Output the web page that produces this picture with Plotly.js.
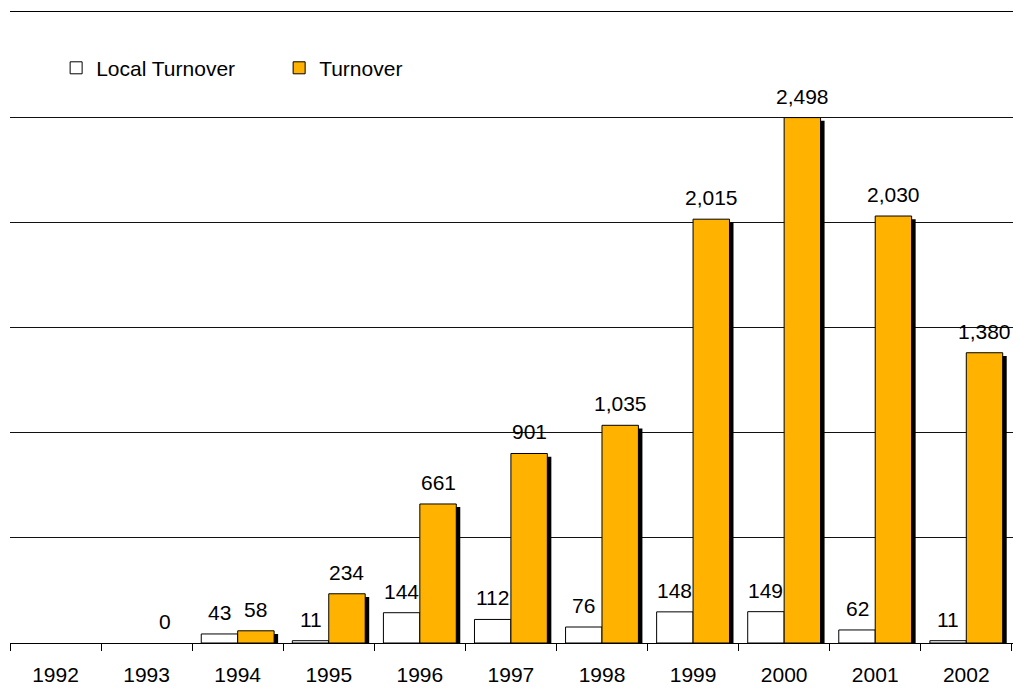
<!DOCTYPE html>
<html>
<head>
<meta charset="utf-8">
<script src="https://cdn.plot.ly/plotly-3.0.1.min.js"></script>
<style>html,body{margin:0;padding:0;background:#fff;}#chart{width:1020px;height:688px;}</style>
</head>
<body>
<div id="chart"></div>
<script>
var years = ['1992','1993','1994','1995','1996','1997','1998','1999','2000','2001','2002'];
var localTurnover = [null, null, 43, 11, 144, 112, 76, 148, 149, 62, 11];
var turnover = [null, 0, 58, 234, 661, 901, 1035, 2015, 2498, 2030, 1380];

var FONT = 'Liberation Sans, Arial, sans-serif';
var ORANGE = '#FFB300';
var BW = 0.4, SH = 0.044;

// no outline on zero-height bars (the reference draws nothing there)
function outlineWidths(vals) { return vals.map(function(v){ return v === 0 ? 0 : 1; }); }
function shadow(vals, off) {
  return {type:'bar', x: years, y: vals, yaxis:'y', width: BW, offset: off + SH,
    marker:{color:'#000', line:{width:0}}, showlegend:false, hoverinfo:'skip'};
}
var traces = [
  shadow(localTurnover, -BW),
  shadow(turnover, 0),
  {type:'bar', name:'Local Turnover', x: years, y: localTurnover, yaxis:'y2', width: BW, offset: -BW,
    marker:{color:'#fff', line:{color:'#000', width:outlineWidths(localTurnover)}}, hoverinfo:'skip'},
  {type:'bar', name:'Turnover', x: years, y: turnover, yaxis:'y2', width: BW, offset: 0,
    marker:{color:ORANGE, line:{color:'#000', width:outlineWidths(turnover)}}, hoverinfo:'skip'}
];

var annotations = [];
function fmt(v){ return v.toString().replace(/\B(?=(\d{3})+(?!\d))/g, ','); }
function addLabels(vals, dx) {
  vals.forEach(function(v, i) {
    if (v === null) return;
    annotations.push({xref:'x', yref:'y2', x: i + dx, y: v, text: fmt(v),
      showarrow:false, yanchor:'bottom', xanchor:'center', yshift: 8,
      font:{family:FONT, size:21, color:'#000'}});
  });
}
addLabels(localTurnover, -BW/2);
addLabels(turnover, BW/2);

var layout = {
  width:1020, height:688,
  margin:{l:10, r:7, t:12, b:45},
  paper_bgcolor:'#fff', plot_bgcolor:'#fff',
  barmode:'overlay',
  font:{family:FONT, size:21, color:'#000'},
  xaxis:{type:'category', showline:true, linecolor:'#000', linewidth:1, mirror:true,
    ticks:'outside', tickson:'boundaries', ticklen:7, tickcolor:'#000', tickwidth:1,
    ticklabelstandoff:13, showgrid:false, zeroline:false, fixedrange:true,
    tickfont:{family:FONT, size:21, color:'#000'}},
  yaxis:{range:[15, 3015], showgrid:false, zeroline:false, showticklabels:false, ticks:'', showline:false, fixedrange:true},
  yaxis2:{overlaying:'y', range:[0, 3000], dtick:500, showgrid:true, gridcolor:'#111', gridwidth:1,
    zeroline:false, showticklabels:false, ticks:'', showline:false, fixedrange:true},
  showlegend:true,
  legend:{orientation:'h', x:0.046, xanchor:'left', y:0.911, yanchor:'middle',
    entrywidth:178, entrywidthmode:'pixels', traceorder:'normal',
    font:{family:FONT, size:21, color:'#000'}, bgcolor:'rgba(0,0,0,0)'},
  annotations: annotations
};
Plotly.newPlot('chart', traces, layout, {displayModeBar:false, staticPlot:true});
</script>
</body>
</html>
